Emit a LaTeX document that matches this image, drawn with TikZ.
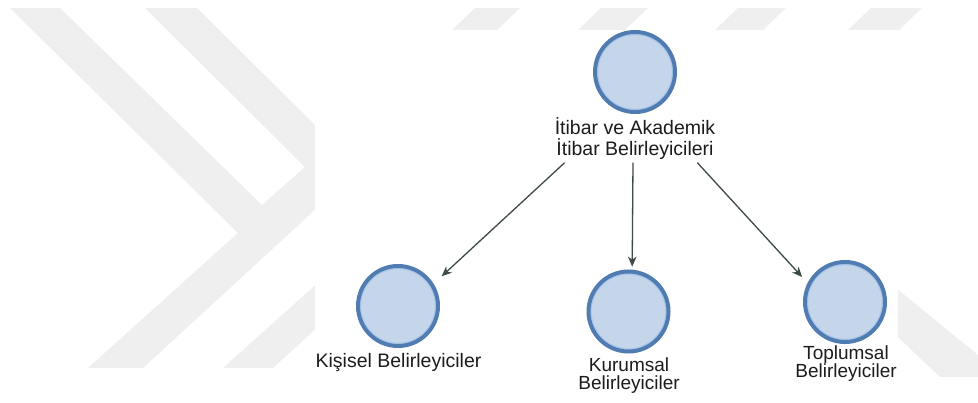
\documentclass[tikz,border=0pt]{standalone}
\usepackage{fontspec}
\usetikzlibrary{arrows.meta}
\newfontfamily\labelfont{Liberation Sans}
\definecolor{wmgray}{RGB}{239,239,239}
\definecolor{ringblue}{RGB}{80,124,178}
\definecolor{ringlight}{RGB}{168,199,236}
\definecolor{fillblue}{RGB}{198,214,234}
\definecolor{arrowgray}{RGB}{62,74,72}
\definecolor{textdark}{RGB}{28,28,28}
\tikzset{
  wm/.style={fill=wmgray, draw=none},
  ent/.style={circle, minimum size=80pt, inner sep=0pt, line width=4pt,
    draw=ringblue, fill=fillblue,
    path picture={\draw[ringlight, line width=1.2pt]
      (path picture bounding box.center) circle (37.4pt);}},
  lbl/.style={font=\labelfont\fontsize{19.5pt}{20.5pt}\selectfont,
    text=textdark, align=center, inner sep=0pt, anchor=base},
  lbltwo/.style={lbl, font=\labelfont\fontsize{19pt}{18.5pt}\selectfont},
  arr/.style={draw=arrowgray, line width=1.3pt,
    -{Stealth[length=10pt, width=8.5pt, inset=3pt]}}
}
\begin{document}
\begin{tikzpicture}[x=1pt, y=-1pt]
\useasboundingbox (0,0) rectangle (978,403);
\fill[white] (0,0) rectangle (978,403);

% background chevrons and bars
\fill[wm] (10,8) -- (60,8) -- (262,205) -- (305,167) -- (145,8) -- (197,8)
  -- (330,140) -- (330,196) -- (143,368) -- (88,368) -- (238,233) -- cycle;
\fill[wm] (223,368) -- (273,368) -- (330,316) -- (330,272) -- cycle;
\fill[wm] (452,30) -- (497,30) -- (520,8) -- (475,8) -- cycle;
\fill[wm] (578,30) -- (625,30) -- (648,8) -- (601,8) -- cycle;
\fill[wm] (715,30) -- (763,30) -- (786,8) -- (738,8) -- cycle;
\fill[wm] (848,30) -- (899,30) -- (922,8) -- (871,8) -- cycle;
\fill[wm] (880,275) -- (978,355) -- (978,377) -- (940,377) -- (880,320) -- cycle;

% white panel of the diagram
\fill[white] (315,30) rectangle (898,403);

% entities
\node[ent] (top) at (635,72) {};
\node[ent] (kisisel) at (398,306) {};
\node[ent] (kurumsal) at (628.5,311.5) {};
\node[ent] (toplumsal) at (845,302) {};

% labels (base anchor sits on the last line)
\node[lbl] (tl) at (635,155.5) {İtibar ve Akademik\\İtibar Belirleyicileri};
\node[lbl] (kl) at (398.5,368) {Kişisel Belirleyiciler};
\node[lbltwo] (ml) at (629,390) {Kurumsal\\Belirleyiciler};
\node[lbltwo] (tpl) at (846,378) {Toplumsal\\Belirleyiciler};

% connectors
\draw[arr, shorten >=11pt] ([shift={(10pt,-3pt)}]tl.south west) -- (kisisel.32);
\draw[arr, shorten >=3pt] ([shift={(-2pt,-3pt)}]tl.south) -- (kurumsal.85);
\draw[arr, shorten >=8pt] ([shift={(-18pt,-3pt)}]tl.south east) -- (toplumsal.153);
\end{tikzpicture}
\end{document}
